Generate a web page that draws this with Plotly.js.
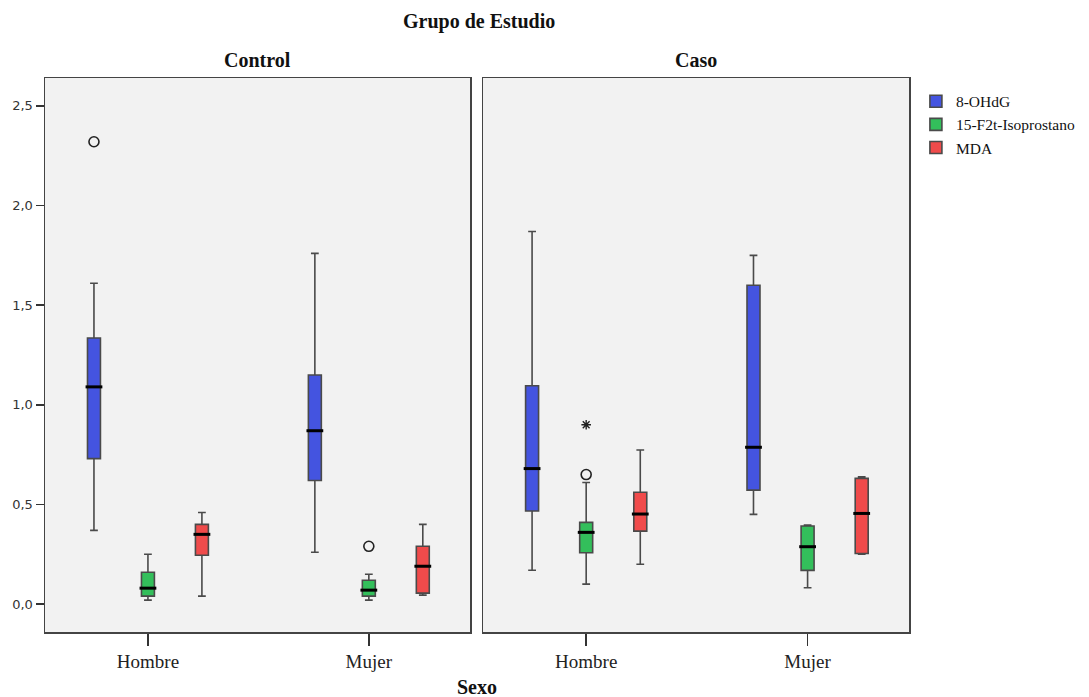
<!DOCTYPE html>
<html>
<head>
<meta charset="utf-8">
<script src="https://cdn.plot.ly/plotly-3.0.1.min.js"></script>
<style>html,body{margin:0;padding:0;background:#fff;}#chart{width:1089px;height:697px;}</style>
</head>
<body>
<div id="chart"></div>
<script>
// Categories
const categories = ['Hombre', 'Mujer'];
const panels = ['Control', 'Caso'];
const seriesNames = ['8-OHdG', '15-F2t-Isoprostano', 'MDA'];
const seriesColors = ['#4454E0', '#33BF5B', '#F04B4B'];

// Box statistics per panel: [Hombre, Mujer]
// Control
const ctl_ohdg = {lower:[0.37,0.26], q1:[0.73,0.62], med:[1.09,0.87], q3:[1.335,1.15], upper:[1.61,1.76]};
const ctl_iso  = {lower:[0.02,0.02], q1:[0.04,0.04], med:[0.08,0.07], q3:[0.16,0.12], upper:[0.25,0.15]};
const ctl_mda  = {lower:[0.04,0.045], q1:[0.245,0.055], med:[0.35,0.19], q3:[0.40,0.29], upper:[0.46,0.40]};
// Caso
const caso_ohdg = {lower:[0.17,0.45], q1:[0.467,0.572], med:[0.68,0.787], q3:[1.096,1.60], upper:[1.87,1.75]};
const caso_iso  = {lower:[0.10,0.082], q1:[0.258,0.169], med:[0.36,0.288], q3:[0.41,0.392], upper:[0.61,0.397]};
const caso_mda  = {lower:[0.20,0.251], q1:[0.366,0.254], med:[0.452,0.455], q3:[0.561,0.631], upper:[0.773,0.639]};

// Outliers: panel index, category index, series index, value
const outlierCircles = [
  {panel:0, cat:0, series:0, value:2.32},
  {panel:0, cat:1, series:1, value:0.29},
  {panel:1, cat:0, series:1, value:0.65}
];
const outlierStars = [
  {panel:1, cat:0, series:1, value:0.90}
];

const panelStats = [[ctl_ohdg, ctl_iso, ctl_mda], [caso_ohdg, caso_iso, caso_mda]];

const BOXGAP = 0.267;
const BOXGROUPGAP = 0.76;
const nSeries = seriesNames.length;
function seriesOffset(k){ return (1 - BOXGAP) * (-0.5 + (k + 0.5) / nSeries); }

const serif = 'Liberation Serif, Times New Roman, serif';
const traces = [];
panelStats.forEach((stats, p) => {
  stats.forEach((s, k) => {
    traces.push({
      type: 'box',
      name: seriesNames[k],
      legendgroup: seriesNames[k],
      showlegend: p === 0,
      offsetgroup: seriesNames[k],
      alignmentgroup: panels[p],
      x: categories.map((c, i) => i),
      q1: s.q1, median: s.med, q3: s.q3,
      lowerfence: s.lower, upperfence: s.upper,
      fillcolor: seriesColors[k],
      line: {color: '#4a4a4a', width: 1.6},
      whiskerwidth: 0.6,
      boxpoints: false,
      hoverinfo: 'skip',
      xaxis: p === 0 ? 'x' : 'x2',
      yaxis: p === 0 ? 'y' : 'y2'
    });
  });
});
// thicker black median bars drawn on top
panelStats.forEach((stats, p) => {
  const xs = [], ys = [];
  stats.forEach((s, k) => {
    s.med.forEach((m, i) => { xs.push(i + seriesOffset(k)); ys.push(m); });
  });
  traces.push({
    type: 'scatter', mode: 'markers', showlegend: false, hoverinfo: 'skip',
    x: xs, y: ys,
    marker: {symbol: 'line-ew-open', size: 12, color: '#000', line: {width: 3, color: '#000'}},
    xaxis: p === 0 ? 'x' : 'x2', yaxis: p === 0 ? 'y' : 'y2'
  });
});
[0, 1].forEach(p => {
  const circ = outlierCircles.filter(o => o.panel === p);
  if (circ.length) traces.push({
    type: 'scatter', mode: 'markers', showlegend: false, hoverinfo: 'skip',
    x: circ.map(o => o.cat + seriesOffset(o.series)),
    y: circ.map(o => o.value),
    marker: {symbol: 'circle-open', size: 10, color: '#222', line: {width: 1.6, color: '#222'}},
    xaxis: p === 0 ? 'x' : 'x2', yaxis: p === 0 ? 'y' : 'y2'
  });
  const st = outlierStars.filter(o => o.panel === p);
  if (st.length) traces.push({
    type: 'scatter', mode: 'markers', showlegend: false, hoverinfo: 'skip',
    x: st.map(o => o.cat + seriesOffset(o.series)),
    y: st.map(o => o.value),
    marker: {symbol: 'asterisk-open', size: 8, color: '#222', line: {width: 1.4, color: '#222'}},
    xaxis: p === 0 ? 'x' : 'x2', yaxis: p === 0 ? 'y' : 'y2'
  });
});

const W = 864; // plot width
const xCommon = {
  range: [-0.466, 1.458],
  tickvals: [0, 1], ticktext: categories,
  ticks: 'outside', ticklen: 12, tickwidth: 1.5, tickcolor: '#333',
  showline: true, linecolor: '#444', linewidth: 1.5, mirror: true,
  showgrid: false, zeroline: false,
  tickfont: {family: serif, size: 19, color: '#222'},
  fixedrange: true
};
const yCommon = {
  range: [-0.14, 2.64],
  tickvals: [0, 0.5, 1, 1.5, 2, 2.5],
  tickformat: '.1f',
  showline: true, linecolor: '#444', linewidth: 1.5, mirror: true,
  showgrid: false, zeroline: false,
  fixedrange: true
};

const layout = {
  width: 1089, height: 697,
  paper_bgcolor: '#ffffff',
  plot_bgcolor: '#F2F2F2',
  separators: ',.',
  margin: {l: 45, r: 180, t: 78, b: 65, autoexpand: false},
  boxmode: 'group', boxgap: BOXGAP, boxgroupgap: BOXGROUPGAP,
  xaxis: Object.assign({}, xCommon, {domain: [0, 425 / W], anchor: 'y'}),
  xaxis2: Object.assign({}, xCommon, {domain: [438 / W, 1], anchor: 'y2'}),
  yaxis: Object.assign({}, yCommon, {
    anchor: 'x', ticks: 'outside', ticklen: 8, tickwidth: 1.5, tickcolor: '#333',
    tickfont: {family: 'DejaVu Sans, Verdana, sans-serif', size: 13, color: '#333'}
  }),
  yaxis2: Object.assign({}, yCommon, {anchor: 'x2', showticklabels: false, ticks: '', matches: 'y'}),
  showlegend: true,
  legend: {
    x: 1.008, y: 0.988, xanchor: 'left', yanchor: 'top',
    font: {family: serif, size: 15.5, color: '#111'},
    bgcolor: 'rgba(0,0,0,0)', tracegroupgap: 0, itemwidth: 30
  },
  annotations: [
    {text: '<b>Grupo de Estudio</b>', xref: 'paper', yref: 'paper', x: 0.502, y: 1, yshift: 57, showarrow: false,
     font: {family: serif, size: 20, color: '#111'}, xanchor: 'center', yanchor: 'middle'},
    {text: '<b>' + panels[0] + '</b>', xref: 'paper', yref: 'paper', x: 212.5 / W, y: 1, yshift: 18, showarrow: false,
     font: {family: serif, size: 20, color: '#111'}, xanchor: 'center', yanchor: 'middle'},
    {text: '<b>' + panels[1] + '</b>', xref: 'paper', yref: 'paper', x: 651 / W, y: 1, yshift: 18, showarrow: false,
     font: {family: serif, size: 20, color: '#111'}, xanchor: 'center', yanchor: 'middle'},
    {text: '<b>Sexo</b>', xref: 'paper', yref: 'paper', x: 0.5, y: 0, yshift: -55, showarrow: false,
     font: {family: serif, size: 20, color: '#111'}, xanchor: 'center', yanchor: 'middle'}
  ]
};

Plotly.newPlot('chart', traces, layout, {displayModeBar: false, staticPlot: true});
</script>
</body>
</html>
